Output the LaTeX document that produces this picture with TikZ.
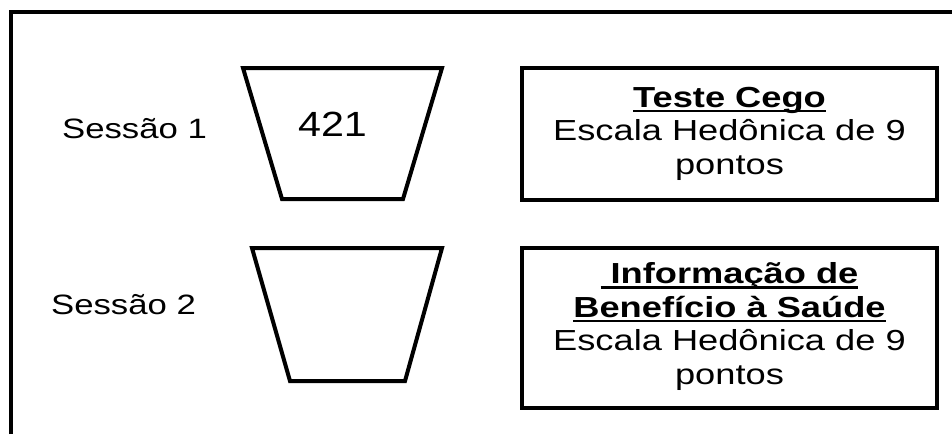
\documentclass[tikz,border=0pt]{standalone}
\usepackage{fontspec}
\usepackage{graphicx}
\setmainfont{Liberation Sans}
\newcommand\ulbar[1]{\setbox0\hbox{#1}\rlap{\rule[-5pt]{\wd0}{2.5pt}}\box0}
\newcommand\wideline[1]{\scalebox{1.25}[1]{#1}}
\tikzset{
  frame/.style={line width=4pt, line join=miter},
  trap/.style={line width=4pt, line join=miter},
  infobox/.style={draw, line width=4pt, inner sep=0pt, align=center,
    font=\fontsize{29}{33.5}\selectfont},
  sesslabel/.style={inner sep=0pt, anchor=base, font=\fontsize{28}{33}\selectfont},
  codelabel/.style={inner sep=0pt, anchor=base, font=\fontsize{35}{40}\selectfont},
}
\begin{document}
\begin{tikzpicture}[x=1pt,y=-1pt]
\useasboundingbox (0,0) rectangle (952,434);
% outer frame (only top and left edges visible)
\draw[frame] (10.5,434) |- (952,12);

% cups
\draw[trap] (243,68) -- (442,68) -- (403,199) -- (282,199) -- cycle;
\draw[trap] (252,248) -- (442,248) -- (405,381) -- (290,381) -- cycle;

% labels
\node[sesslabel] (s1) at (134.5,138) {\scalebox{1.24}[1]{Sessão 1}};
\node[sesslabel] (s2) at (123.5,314) {\scalebox{1.24}[1]{Sessão 2}};
\node[codelabel] (code) at (332.5,136.7) {\scalebox{1.18}[1]{421}};

% boxes
\node[infobox, minimum width=415pt, minimum height=132pt] (b1) at (729.5,134)
  {\wideline{\begin{tabular}{@{}c@{}}\ulbar{\bfseries Teste Cego}\\Escala Hedônica de 9\\pontos\end{tabular}}};
\node[infobox, minimum width=415pt, minimum height=160pt] (b2) at (729.5,327.5)
  {\wideline{\begin{tabular}{@{}c@{}}\ulbar{\bfseries\ Informação de}\\\ulbar{\bfseries Benefício à Saúde}\\Escala Hedônica de 9\\pontos\end{tabular}}};
\end{tikzpicture}
\end{document}
